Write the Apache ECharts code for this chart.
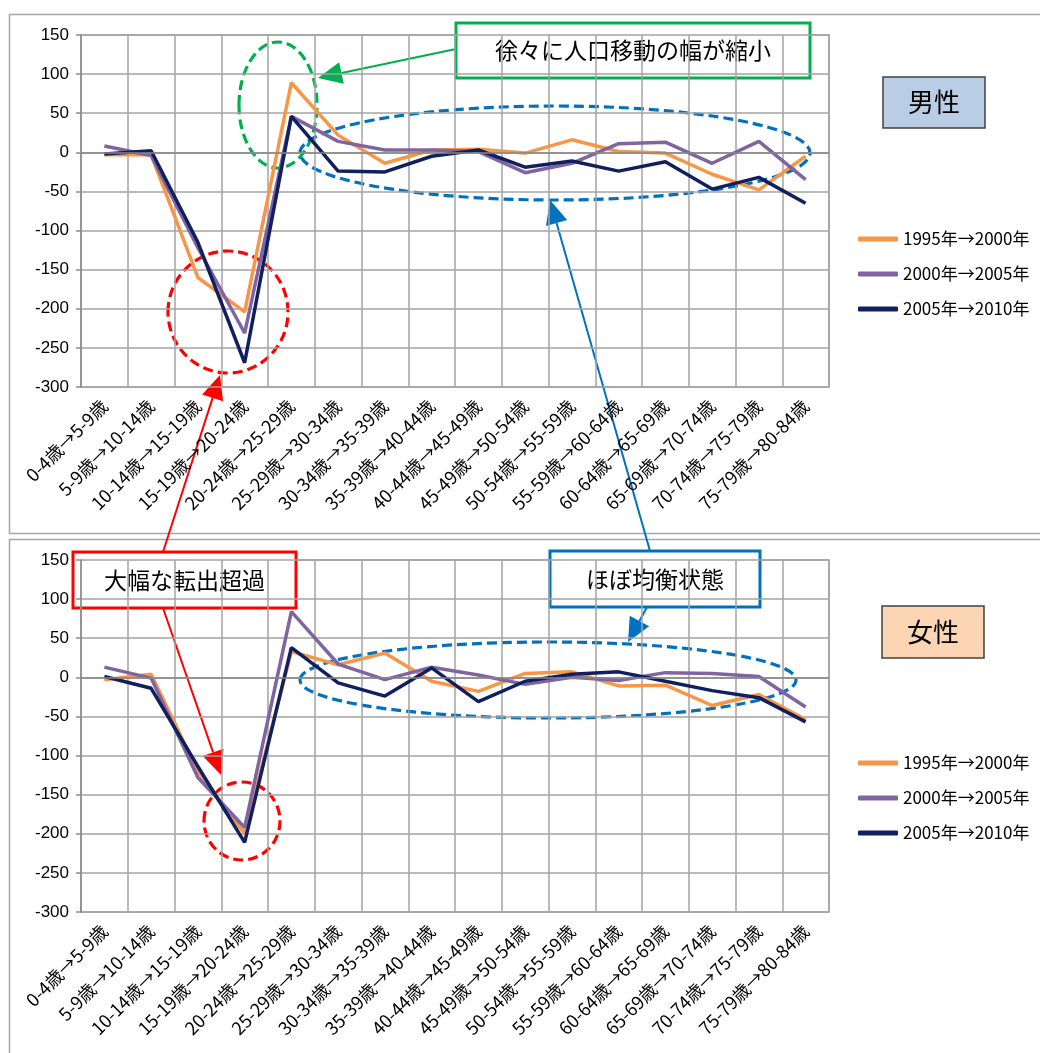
<!DOCTYPE html>
<html>
<head>
<meta charset="utf-8">
<script src="https://cdn.jsdelivr.net/npm/echarts@6/dist/echarts.min.js"></script>
<style>
  html, body { margin: 0; padding: 0; background: #fff; }
  #chart { width: 1040px; height: 1053px; }
</style>
</head>
<body>
<div id="chart"></div>
<script>
// Age-cohort transitions (5-year steps)
const categories = [
  '0-4歳→5-9歳', '5-9歳→10-14歳', '10-14歳→15-19歳', '15-19歳→20-24歳',
  '20-24歳→25-29歳', '25-29歳→30-34歳', '30-34歳→35-39歳', '35-39歳→40-44歳',
  '40-44歳→45-49歳', '45-49歳→50-54歳', '50-54歳→55-59歳', '55-59歳→60-64歳',
  '60-64歳→65-69歳', '65-69歳→70-74歳', '70-74歳→75-79歳', '75-79歳→80-84歳'
];

const seriesNames = ['1995年→2000年', '2000年→2005年', '2005年→2010年'];

// Net migration, men
const male1995 = [-3, -3, -160, -204, 89, 22, -14, 3, 4, -1, 16, 1, -1, -28, -48, -5];
const male2000 = [8, -4, -122, -231, 46, 14, 3, 3, 1, -26, -14, 11, 13, -14, 14, -35];
const male2005 = [-2, 2, -115, -269, 46, -24, -25, -5, 3, -19, -11, -24, -12, -47, -32, -65];

// Net migration, women
const female1995 = [-3, 4, -120, -200, 33, 16, 31, -5, -18, 5, 7, -11, -10, -36, -22, -54];
const female2000 = [13, -1, -128, -192, 84, 17, -3, 13, 3, -9, 0, -4, 6, 5, 1, -38];
const female2005 = [1, -14, -114, -211, 38, -7, -24, 12, -31, -5, 4, 7, -5, -17, -26, -57];

const yMin = -300, yMax = 150, yStep = 50;

const colors = ['#f79646', '#8064a2', '#10205e'];
const gridColor = '#a3a3a3';
const LATIN = '"Liberation Sans", "Noto Sans CJK JP", sans-serif';
const CJK = '"Noto Sans CJK JP", sans-serif';

function xAxisFor(idx) {
  return {
    type: 'category', gridIndex: idx, data: categories, boundaryGap: true,
    axisLine: { show: false }, axisTick: { show: false },
    axisLabel: { interval: 0, rotate: 45, fontSize: 18, color: '#000', margin: 16, fontFamily: CJK },
    splitLine: { show: true, interval: 0, lineStyle: { color: gridColor, width: 1.5 } }
  };
}
function yAxisFor(idx) {
  return {
    type: 'value', gridIndex: idx, min: yMin, max: yMax, interval: yStep,
    axisLine: { show: true, lineStyle: { color: '#8c8c8c', width: 1.5 } },
    axisTick: { show: true, length: 5, lineStyle: { color: '#8c8c8c', width: 1.5 } },
    axisLabel: { fontSize: 17, color: '#000', margin: 12, fontFamily: LATIN },
    splitLine: { show: true, lineStyle: { color: gridColor, width: 1.5 } }
  };
}
function lineSeries(name, data, idx, color, withZero) {
  const s = {
    name, type: 'line', data, xAxisIndex: idx, yAxisIndex: idx,
    symbol: 'none', smooth: false, animation: false,
    lineStyle: { color, width: 3.5 }, itemStyle: { color }
  };
  if (withZero) {
    s.markLine = {
      silent: true, symbol: 'none', label: { show: false },
      lineStyle: { color: '#868686', width: 1.5, type: 'solid' },
      data: [{ yAxis: 0 }]
    };
  }
  return s;
}

// Annotation helpers
function ellipse(cx, cy, rx, ry, color) {
  return { type: 'ellipse', shape: { cx, cy, rx, ry }, silent: true,
    style: { fill: null, stroke: color, lineWidth: 3.2, lineDash: [10, 5] } };
}
function arrow(x1, y1, x2, y2, color, width) {
  const dx = x2 - x1, dy = y2 - y1, len = Math.hypot(dx, dy);
  const ux = dx / len, uy = dy / len, nx = -uy, ny = ux;
  const hl = 24, hw = 11;
  const bx = x2 - ux * hl, by = y2 - uy * hl;
  return [
    { type: 'line', silent: true, shape: { x1, y1, x2: bx, y2: by },
      style: { stroke: color, lineWidth: width } },
    { type: 'polygon', silent: true,
      shape: { points: [[x2, y2], [bx + nx * hw, by + ny * hw], [bx - nx * hw, by - ny * hw]] },
      style: { fill: color } }
  ];
}
function labelBox(x, y, w, h, text, stroke, fill, size, lw) {
  return [
    { type: 'rect', silent: true, shape: { x, y, width: w, height: h },
      style: { fill, stroke, lineWidth: lw } },
    { type: 'text', silent: true,
      style: { text, x: x + w / 2, y: y + h / 2, align: 'center', verticalAlign: 'middle',
        fill: '#000', font: size + 'px ' + CJK } }
  ];
}

const graphics = [].concat(
  // chart frames
  [{ type: 'rect', silent: true, shape: { x: 9.5, y: 14.5, width: 1040, height: 519 },
     style: { fill: null, stroke: '#a6a6a6', lineWidth: 1.5 } },
   { type: 'rect', silent: true, shape: { x: 9.5, y: 539.5, width: 1040, height: 530 },
     style: { fill: null, stroke: '#a6a6a6', lineWidth: 1.5 } }],
  // panel titles
  labelBox(883, 77, 102, 51, '男性', '#404040', '#b9cde5', 26, 1.5),
  labelBox(882, 606, 102, 52, '女性', '#404040', '#fcd5b5', 26, 1.5),
  // highlight rings
  [ellipse(278, 105, 39, 63, '#00b050'),
   ellipse(228, 312, 60, 61, '#ff0000'),
   ellipse(555, 153, 255, 47, '#0070c0'),
   ellipse(548, 680, 248, 38, '#0070c0'),
   ellipse(242, 821, 38, 39, '#ff0000')],
  // arrows
  arrow(456, 49, 318, 78, '#00b050', 2),
  arrow(163, 552, 220, 375, '#ff0000', 2),
  arrow(163, 608, 221, 775, '#ff0000', 2),
  arrow(650, 551, 550, 200, '#0070c0', 2),
  arrow(647, 607, 628, 642, '#0070c0', 2),
  // callouts
  labelBox(456, 23, 354, 55, '徐々に人口移動の幅が縮小', '#00b050', '#fff', 23, 3),
  labelBox(73, 552, 223, 56, '大幅な転出超過', '#ff0000', '#fff', 23, 3),
  labelBox(550, 551, 210, 56, 'ほぼ均衡状態', '#0070c0', '#fff', 23, 3)
);

const legendBase = {
  orient: 'vertical', left: 858, padding: 0, itemWidth: 40, itemHeight: 5, itemGap: 15,
  icon: 'roundRect', data: seriesNames, selectedMode: false,
  textStyle: { fontSize: 17, color: '#000', fontFamily: CJK, lineHeight: 20 }
};

const option = {
  animation: false,
  backgroundColor: '#fff',
  grid: [
    { left: 81, top: 35, width: 748, height: 352, show: true, borderColor: gridColor, borderWidth: 1.5 },
    { left: 81, top: 560, width: 748, height: 352, show: true, borderColor: gridColor, borderWidth: 1.5 }
  ],
  xAxis: [xAxisFor(0), xAxisFor(1)],
  yAxis: [yAxisFor(0), yAxisFor(1)],
  legend: [
    Object.assign({}, legendBase, { top: 229 }),
    Object.assign({}, legendBase, { top: 753 })
  ],
  series: [
    lineSeries(seriesNames[0], male1995, 0, colors[0], true),
    lineSeries(seriesNames[1], male2000, 0, colors[1], false),
    lineSeries(seriesNames[2], male2005, 0, colors[2], false),
    lineSeries(seriesNames[0], female1995, 1, colors[0], true),
    lineSeries(seriesNames[1], female2000, 1, colors[1], false),
    lineSeries(seriesNames[2], female2005, 1, colors[2], false)
  ],
  graphic: graphics
};

const chart = echarts.init(document.getElementById('chart'), null, { renderer: 'canvas' });
chart.setOption(option);
</script>
</body>
</html>
